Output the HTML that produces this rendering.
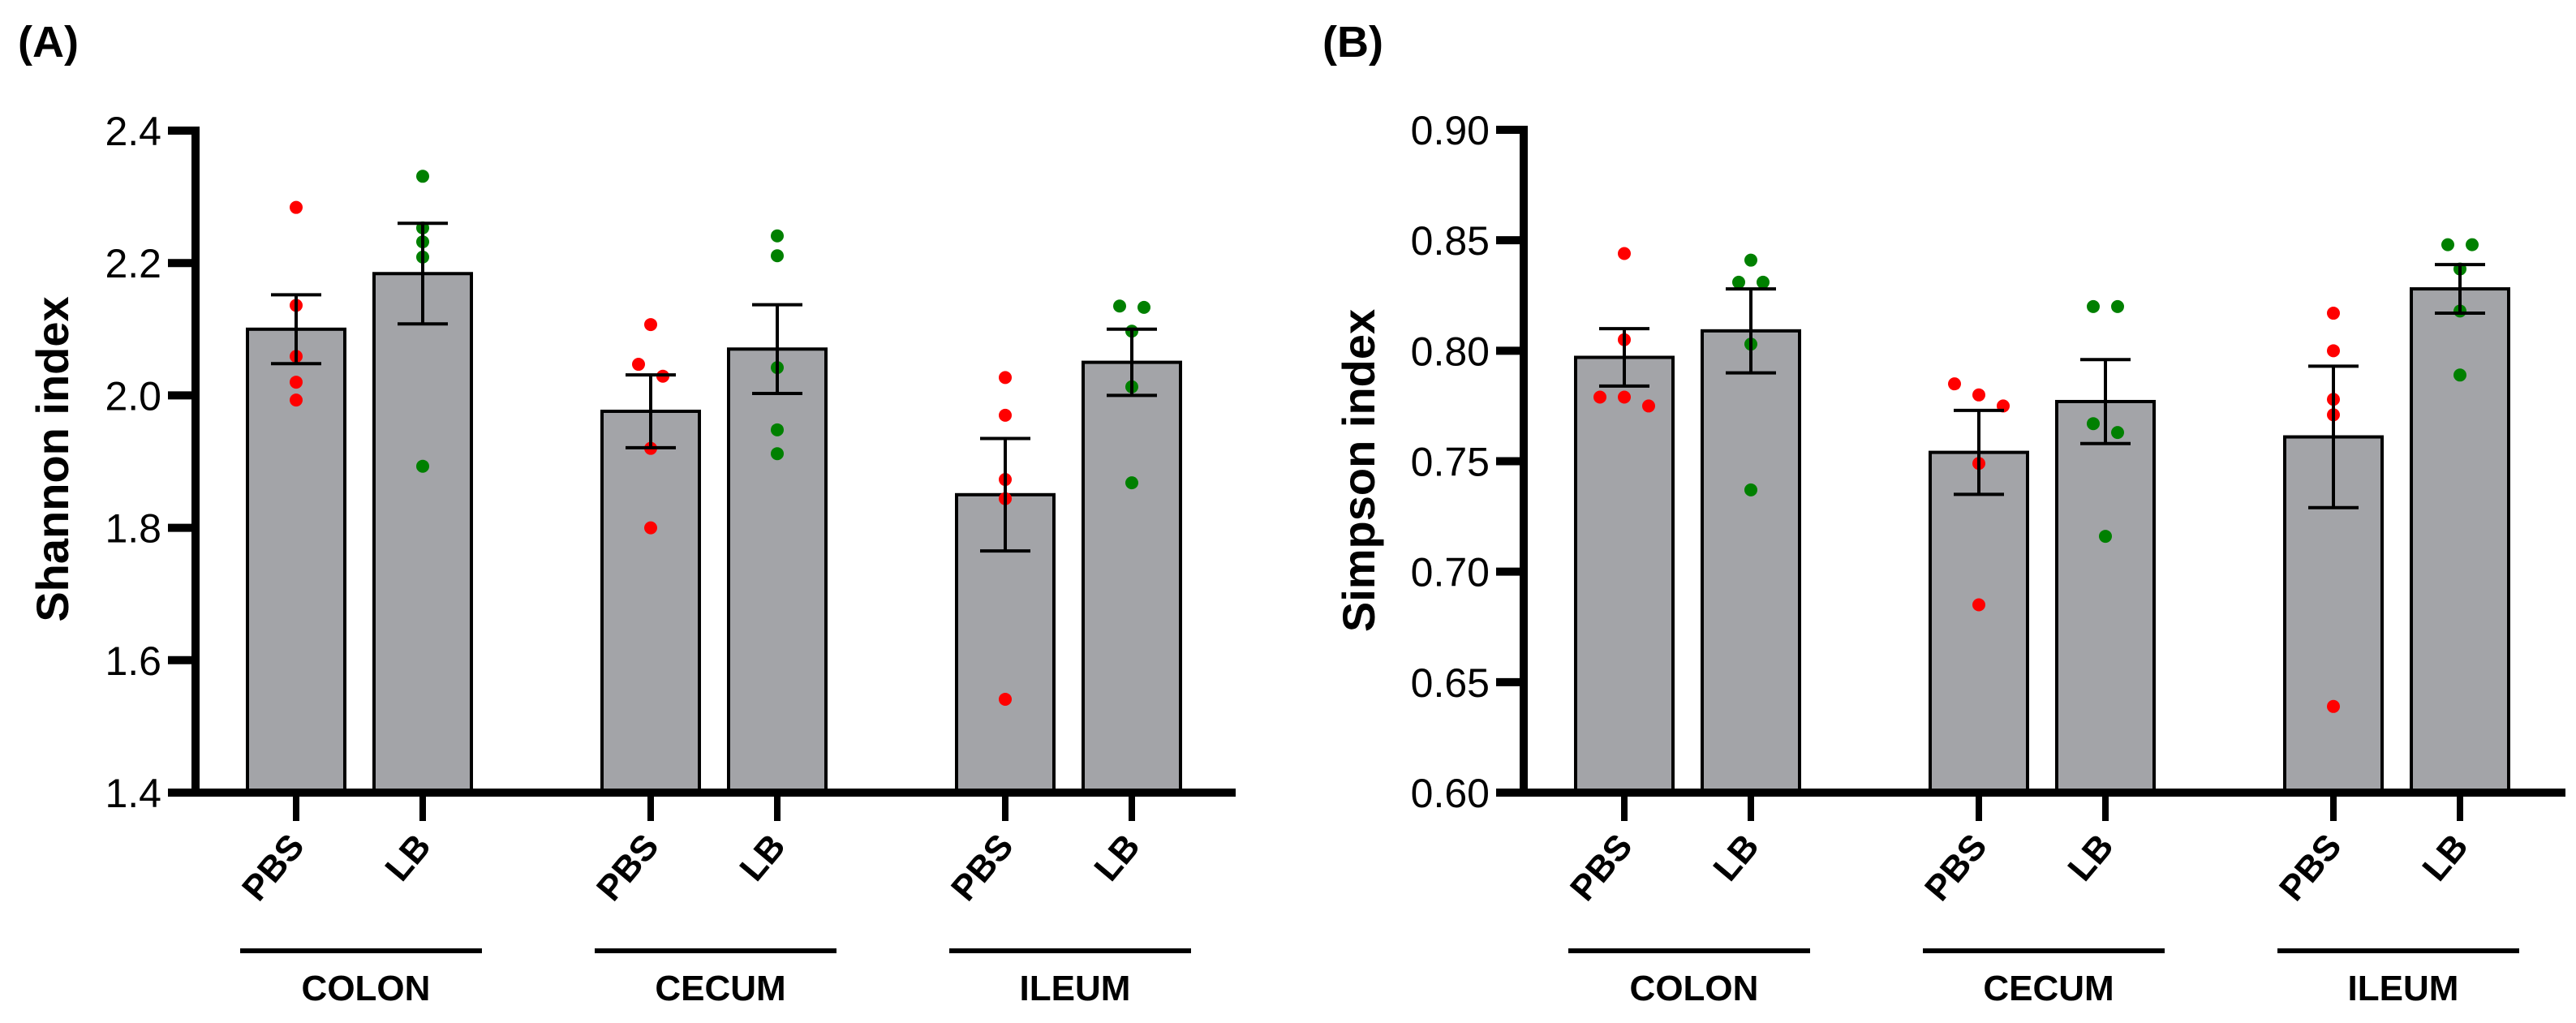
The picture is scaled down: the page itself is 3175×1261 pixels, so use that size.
<!DOCTYPE html>
<html><head><meta charset="utf-8">
<style>
html,body{margin:0;padding:0;background:#fff;}
svg{display:block;}
text{font-family:"Liberation Sans",Arial,sans-serif;fill:#000;}
</style></head>
<body>
<svg id="fig" width="3175" height="1261" viewBox="0 0 3175 1261" xmlns="http://www.w3.org/2000/svg"></svg>
<script>
// ---- data ----
const groups = ["COLON","CECUM","ILEUM"];
const treatments = ["PBS","LB"];
// Panel A (Shannon)
const shannonMeans = [2.100, 2.184, 1.976, 2.070, 1.850, 2.050];
const shannonSem   = [0.052, 0.076, 0.055, 0.067, 0.085, 0.050];
const shannonPoints = [
  [2.284, 2.136, 2.059, 2.020, 1.993],
  [2.331, 2.253, 2.232, 2.209, 1.893],
  [2.107, 2.047, 2.029, 1.920, 1.800],
  [2.241, 2.211, 2.042, 1.948, 1.912],
  [2.027, 1.970, 1.873, 1.844, 1.541],
  [2.135, 2.133, 2.097, 2.013, 1.868]
];
const shannonTicks = [1.4, 1.6, 1.8, 2.0, 2.2, 2.4];
const shannonTickLabels = ["1.4","1.6","1.8","2.0","2.2","2.4"];
// Panel B (Simpson)
const simpsonMeans = [0.797, 0.809, 0.754, 0.777, 0.761, 0.828];
const simpsonSem   = [0.013, 0.019, 0.019, 0.019, 0.032, 0.011];
const simpsonPoints = [
  [0.844, 0.805, 0.779, 0.779, 0.775],
  [0.841, 0.831, 0.831, 0.803, 0.737],
  [0.785, 0.780, 0.775, 0.749, 0.685],
  [0.820, 0.820, 0.767, 0.763, 0.716],
  [0.817, 0.800, 0.778, 0.771, 0.639],
  [0.848, 0.848, 0.837, 0.818, 0.789]
];
const simpsonTicks = [0.60, 0.65, 0.70, 0.75, 0.80, 0.85, 0.90];
const simpsonTickLabels = ["0.60","0.65","0.70","0.75","0.80","0.85","0.90"];

const NS = "http://www.w3.org/2000/svg";
const svg = document.getElementById("fig");
function mk(tag, attrs, parent){
  const e = document.createElementNS(NS, tag);
  for (const k in attrs) e.setAttribute(k, attrs[k]);
  (parent||svg).appendChild(e);
  return e;
}

function drawPanel(cfg){
  const g = mk("g", {});
  
  
  const yScale = v => cfg.yBase - (v - cfg.vMin) / (cfg.vMax - cfg.vMin) * cfg.yLen;
  const xCenter = i => cfg.x0 + Math.floor(i/2)*437 + (i%2)*156;
  const barW = 120;

  // panel label
  const pl = mk("text", {x: cfg.labelX, y: 70, "font-size": 54, "font-weight": "bold"}, g);
  pl.textContent = cfg.label;
  
  

  // bars
  cfg.means.forEach((m, i) => {
    const cx = xCenter(i), yt = yScale(m);
    const r = mk("rect", {x: cx - barW/2, y: yt, width: barW, height: cfg.yBase - yt, fill: "#a3a4a8", stroke: "#000", "stroke-width": 4}, g);
    
    
  });

  // points
  cfg.points.forEach((arr, i) => {
    const cx = xCenter(i);
    const color = (i%2===0) ? "#ff0000" : "#008000";
    const sorted = arr.slice().sort((a,b)=>b-a);
    const clusters = [];
    sorted.forEach(v => {
      const last = clusters[clusters.length-1];
      if (last && Math.abs(yScale(last[last.length-1]) - yScale(v)) < 16) last.push(v);
      else clusters.push([v]);
    });
    clusters.forEach(cl => {
      cl.forEach((v, k) => {
        const off = (k - (cl.length-1)/2) * 30;
        const c = mk("circle", {cx: cx + off, cy: yScale(v), r: 8, fill: color}, g);
        
        
      });
    });
  });

  // error bars
  cfg.means.forEach((m, i) => {
    const cx = xCenter(i);
    const yh = yScale(m + cfg.sem[i]), yl = yScale(m - cfg.sem[i]);
    const eg = mk("g", {stroke: "#000", "stroke-width": 4}, g);
    
    
    mk("line", {x1: cx, x2: cx, y1: yh, y2: yl}, eg);
    mk("line", {x1: cx-31, x2: cx+31, y1: yh, y2: yh}, eg);
    mk("line", {x1: cx-31, x2: cx+31, y1: yl, y2: yl}, eg);
  });

  // y axis
  const ya = mk("g", {}, g);
  
  
  mk("line", {x1: cfg.axisX, x2: cfg.axisX, y1: yScale(cfg.vMax) - 5, y2: cfg.yBase + 5, stroke: "#000", "stroke-width": 10}, ya);
  cfg.ticks.forEach((t, k) => {
    const y = yScale(t);
    mk("line", {x1: cfg.axisX - 34, x2: cfg.axisX, y1: y, y2: y, stroke: "#000", "stroke-width": 10}, ya);
    const tl = mk("text", {x: cfg.axisX - 42, y: y + 18, "font-size": 50, "text-anchor": "end"}, ya);
    tl.textContent = cfg.tickLabels[k];
    
    
  });
  const yt = mk("text", {x: 0, y: 0, "font-size": 56, "font-weight": "bold", "text-anchor": "middle",
    transform: `translate(${cfg.titleX},${cfg.titleY}) rotate(-90)`}, g);
  yt.textContent = cfg.yTitle;
  
  

  // x axis
  const xa = mk("g", {}, g);
  
  
  mk("line", {x1: cfg.axisX - 32, x2: cfg.xEnd, y1: cfg.yBase, y2: cfg.yBase, stroke: "#000", "stroke-width": 10}, xa);
  cfg.means.forEach((m, i) => {
    const cx = xCenter(i);
    mk("line", {x1: cx, x2: cx, y1: cfg.yBase, y2: 1012, stroke: "#000", "stroke-width": 8}, xa);
    const lab = mk("text", {x: 0, y: 0, "font-size": 44, "font-weight": "bold", "text-anchor": "end",
      transform: `translate(${cx + 12},${1044}) rotate(-50)`}, xa);
    lab.textContent = treatments[i%2];
    
    
  });
  groups.forEach((gname, k) => {
    const left = xCenter(2*k) - 69, right = xCenter(2*k+1) + 73;
    const gl = mk("line", {x1: left, x2: right, y1: 1172, y2: 1172, stroke: "#000", "stroke-width": 6}, xa);
    
    
    const gt = mk("text", {x: (left+right)/2 + 6, y: 1233, "font-size": 44, "font-weight": "bold", "text-anchor": "middle"}, xa);
    gt.textContent = gname;
    
    
  });
}

drawPanel({name: "panel-a-shannon", label: "(A)", labelX: 22, means: shannonMeans, sem: shannonSem, points: shannonPoints,
  ticks: shannonTicks, tickLabels: shannonTickLabels, vMin: 1.4, vMax: 2.4, yBase: 977, yLen: 816,
  x0: 365, axisX: 241, xEnd: 1523, titleX: 84, titleY: 566, yTitle: "Shannon index"});
drawPanel({name: "panel-b-simpson", label: "(B)", labelX: 1630, means: simpsonMeans, sem: simpsonSem, points: simpsonPoints,
  ticks: simpsonTicks, tickLabels: simpsonTickLabels, vMin: 0.6, vMax: 0.9, yBase: 977, yLen: 817,
  x0: 2002, axisX: 1878, xEnd: 3162, titleX: 1694, titleY: 580, yTitle: "Simpson index"});
</script>
</body></html>
